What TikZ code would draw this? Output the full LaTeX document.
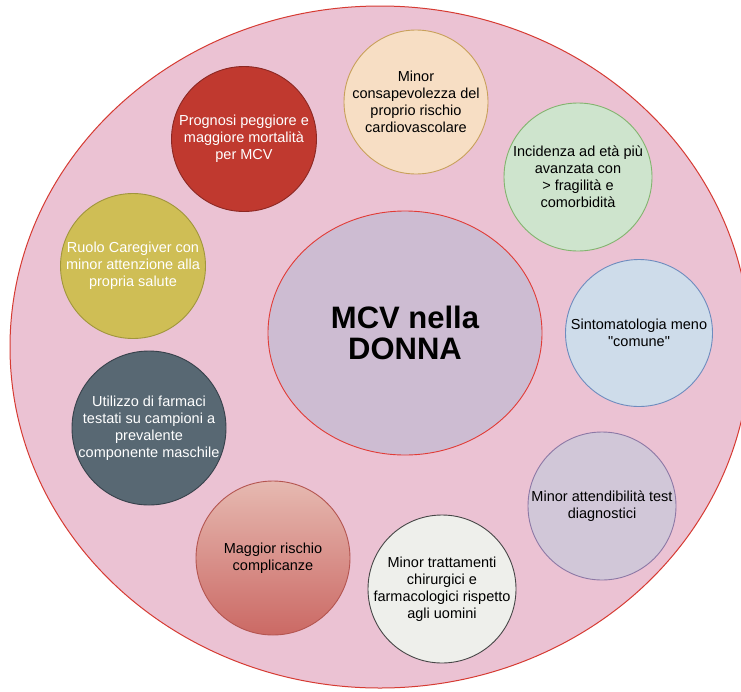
\documentclass[tikz,border=0pt]{standalone}
\usepackage{fontspec}
\setmainfont{Liberation Sans}[Ligatures=TeXOff]
\usetikzlibrary{shapes.geometric}

% fills and outlines
\definecolor{bgpink}{RGB}{235,194,211}
\definecolor{bgline}{RGB}{214,59,51}
\definecolor{redfill}{RGB}{192,57,47}
\definecolor{redline}{RGB}{140,40,35}
\definecolor{peachfill}{RGB}{247,222,196}
\definecolor{peachline}{RGB}{200,160,90}
\definecolor{greenfill}{RGB}{206,228,205}
\definecolor{greenline}{RGB}{130,180,110}
\definecolor{yellowfill}{RGB}{207,190,85}
\definecolor{yellowline}{RGB}{160,150,60}
\definecolor{corefill}{RGB}{205,188,210}
\definecolor{coreline}{RGB}{225,60,55}
\definecolor{bluefill}{RGB}{206,220,234}
\definecolor{blueline}{RGB}{110,140,190}
\definecolor{slatefill}{RGB}{88,104,115}
\definecolor{slateline}{RGB}{55,65,75}
\definecolor{lilacfill}{RGB}{209,199,216}
\definecolor{lilacline}{RGB}{140,120,165}
\definecolor{rosetop}{RGB}{230,185,177}
\definecolor{rosebottom}{RGB}{203,105,100}
\definecolor{roseline}{RGB}{180,85,80}
\definecolor{greyfill}{RGB}{238,239,235}
\definecolor{greyline}{RGB}{70,70,70}

\begin{document}
\begin{tikzpicture}[x=1pt,y=-1pt,
  bubble/.style={circle,draw,line width=0.9pt,inner sep=0pt,minimum size=#1},
  txt/.style={align=center,inner sep=0pt,font=\fontsize{14.5}{17}\selectfont}]
\useasboundingbox (0,0) rectangle (741,691);
\clip (0,0) rectangle (741,691);
\fill[white] (0,0) rectangle (741,691);

% outer field
\node[ellipse,draw=bgline,fill=bgpink,line width=1pt,inner sep=0pt,
      minimum width=740pt,minimum height=682pt] (field) at (380,347) {};

% central topic
\node[ellipse,draw=coreline,fill=corefill,line width=0.9pt,inner sep=0pt,
      minimum width=274pt,minimum height=244pt] (core) at (405,333) {};
\node[align=center,inner sep=0pt,font=\fontsize{31}{31}\selectfont\bfseries] (coreT) at (core)
  {MCV nella\\DONNA};

% surrounding factors
\node[bubble=145pt,fill=redfill,draw=redline] (prog) at (244,139) {};
\node[txt,text=white] (progT) at (prog) {Prognosi peggiore e\\maggiore mortalità\\per MCV};

\node[bubble=144pt,fill=peachfill,draw=peachline] (aware) at (416,102) {};
\node[txt] (awareT) at (aware) {Minor\\consapevolezza del\\proprio rischio\\cardiovascolare};

\node[bubble=148pt,fill=greenfill,draw=greenline] (age) at (578,177) {};
\node[txt] (ageT) at (age) {Incidenza ad età più\\avanzata con\\> fragilità e\\comorbidità};

\node[bubble=145pt,fill=yellowfill,draw=yellowline] (care) at (133,266) {};
\node[txt,text=white] (careT) at (care) {Ruolo Caregiver con\\minor attenzione alla\\propria salute};

\node[bubble=147pt,fill=bluefill,draw=blueline] (symp) at (639,333) {};
\node[txt] (sympT) at (symp) {Sintomatologia meno\\"comune"};

\node[bubble=154pt,fill=slatefill,draw=slateline] (drug) at (149,428) {};
\node[txt,text=white] (drugT) at (drug) {Utilizzo di farmaci\\testati su campioni a\\prevalente\\componente maschile};

\node[bubble=148pt,fill=lilacfill,draw=lilacline] (test) at (602,506) {};
\node[txt] (testT) at (test) {Minor attendibilità test\\diagnostici};

\node[bubble=154pt,top color=rosetop,bottom color=rosebottom,draw=roseline] (risk) at (273,558) {};
\node[txt] (riskT) at (risk) {Maggior rischio\\complicanze};

\node[bubble=148pt,fill=greyfill,draw=greyline] (treat) at (442,589) {};
\node[txt] (treatT) at (treat) {Minor trattamenti\\chirurgici e\\farmacologici rispetto\\agli uomini};
\end{tikzpicture}
\end{document}
